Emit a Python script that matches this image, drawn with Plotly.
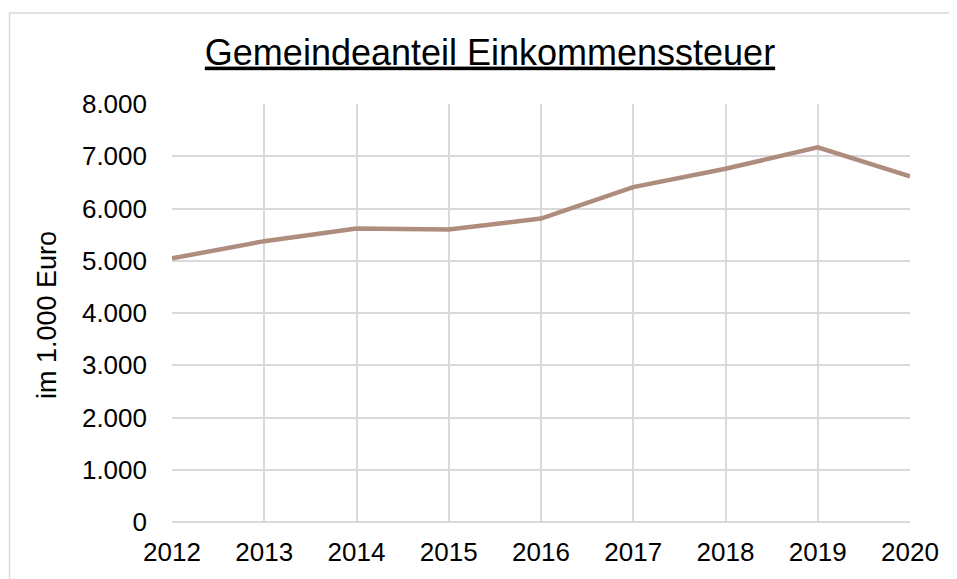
import plotly.graph_objects as go

# Gemeindeanteil an der Einkommenssteuer, in 1.000 Euro
jahre = [2012, 2013, 2014, 2015, 2016, 2017, 2018, 2019, 2020]
werte = [5046, 5375, 5617, 5598, 5808, 6410, 6760, 7171, 6613]

# die Seite hat 8px Rand, daher ist die Figur etwas kleiner
W, H = 949, 571
L, R, T, B = 164, 47, 96, 55
pw, ph = W - L - R, H - T - B

fig = go.Figure()
fig.add_trace(go.Scatter(
    x=jahre, y=werte, mode='lines',
    line=dict(color='#AE8C7E', width=4.5),
    hovertemplate='%{x}: %{y:,d}<extra></extra>'
))

fig.update_layout(
    width=W, height=H,
    margin=dict(l=L, r=R, t=T, b=B),
    paper_bgcolor='white', plot_bgcolor='white',
    separators=',.',
    showlegend=False,
    font=dict(family='Liberation Sans, Arial, sans-serif', color='#000000', size=26),
    title=dict(
        text='Gemeindeanteil Einkommenssteuer',
        x=482 / W, xanchor='center', xref='container',
        y=1 - 44 / H, yanchor='middle', yref='container',
        font=dict(size=36, color='#000000', lineposition='under'),
    ),
)

fig.update_xaxes(
    range=[2012, 2020], tickvals=jahre, tickformat='d',
    showgrid=True, gridcolor='#D9D9D9', gridwidth=1.5,
    showline=False, zeroline=False, ticks='',
    ticklabelstandoff=12,
)
fig.update_yaxes(
    range=[0, 8000], dtick=1000, tickformat=',d',
    showgrid=True, gridcolor='#D9D9D9', gridwidth=1.5,
    zeroline=True, zerolinecolor='#D9D9D9', zerolinewidth=1.5,
    showline=False, ticks='',
    ticklabelstandoff=24,
)

# y-Achsentitel
fig.add_annotation(
    text='im 1.000 Euro', textangle=-90,
    xref='paper', yref='paper',
    x=(39 - L) / pw, y=(H - B - 308) / ph,
    xanchor='center', yanchor='middle',
    showarrow=False, font=dict(size=27),
)

# Rahmen um das Diagramm
fig.add_shape(
    type='rect', xref='paper', yref='paper',
    x0=(1.5 - L) / pw, x1=(W + 8 - L) / pw,
    y0=(H - B - (H + 8)) / ph, y1=(H - B - 4.5) / ph,
    line=dict(color='#D9D9D9', width=1.5), layer='below',
)

fig.write_html("out.html")
